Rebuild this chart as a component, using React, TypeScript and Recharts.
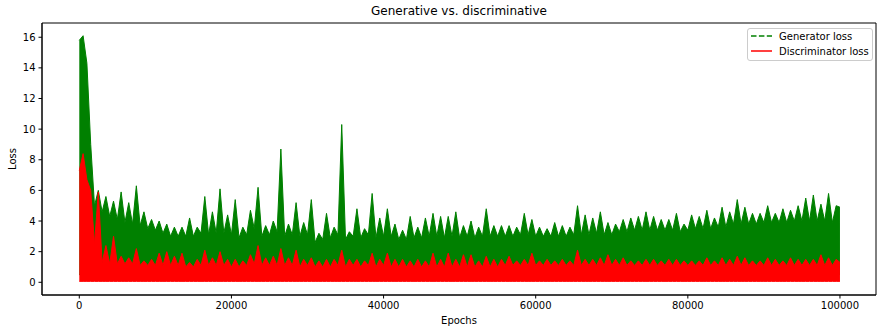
import { ComposedChart, Area, XAxis, YAxis, ReferenceArea } from 'recharts'

// generator loss: top of the dense band at every 1000 epochs (0 .. 100000)
const genBand = [
  15.8, 14.3, 5.0, 4.6, 4.3, 4.1, 3.9, 3.8, 3.7, 3.5,
  3.4, 3.2, 3.0, 3.0, 3.0, 3.0, 3.2, 3.1, 3.2, 3.2,
  3.1, 2.9, 3.1, 3.5, 3.0, 3.1, 3.3, 3.0, 3.1, 3.0,
  3.1, 2.6, 2.8, 2.9, 3.1, 2.8, 3.0, 2.9, 3.1, 2.9,
  3.0, 3.0, 2.8, 2.8, 2.9, 2.9, 3.0, 3.0, 2.9, 3.0,
  2.9, 3.0, 2.9, 3.0, 3.0, 3.0, 3.0, 3.0, 3.1, 3.1,
  3.0, 3.0, 3.0, 3.0, 3.0, 3.1, 3.1, 3.1, 3.2, 3.1,
  3.1, 3.3, 3.3, 3.4, 3.4, 3.4, 3.4, 3.4, 3.4, 3.3,
  3.4, 3.5, 3.5, 3.5, 3.6, 3.6, 3.8, 3.8, 3.8, 3.8,
  3.9, 3.9, 3.9, 3.9, 4.0, 4.0, 4.0, 4.0, 4.0, 3.9,
  4.9,
]
// generator loss: highest spike in each 1000-epoch bucket (drawn mid-bucket)
const genSpike = [
  16.1, 9.0, 6.0, 5.6, 5.3, 5.9, 5.2, 6.3, 4.6, 4.1,
  4.0, 3.8, 3.6, 3.6, 4.2, 3.6, 5.6, 4.6, 6.1, 4.4,
  5.4, 3.6, 4.7, 6.2, 3.7, 4.0, 8.7, 3.8, 5.2, 3.9,
  5.4, 3.2, 4.5, 3.6, 10.3, 3.3, 4.8, 3.5, 5.8, 4.2,
  4.8, 3.8, 3.4, 4.3, 3.6, 4.2, 4.5, 4.3, 4.3, 4.6,
  3.7, 4.0, 3.6, 4.8, 3.7, 3.7, 3.7, 3.6, 4.5, 4.1,
  3.6, 3.5, 3.9, 3.7, 3.6, 5.0, 4.4, 4.2, 4.6, 3.9,
  3.8, 4.1, 4.2, 4.3, 4.6, 4.3, 4.1, 4.1, 4.5, 3.8,
  4.4, 4.3, 4.7, 4.2, 4.9, 4.6, 5.4, 4.9, 4.5, 4.5,
  5.0, 4.5, 4.8, 4.7, 5.0, 5.5, 5.7, 5.1, 5.8, 5.0,
]
// discriminator loss, same sampling
const discBand = [
  7.3, 6.7, 2.5, 1.3, 1.2, 1.2, 1.2, 1.2, 1.1, 1.1,
  1.1, 1.1, 1.1, 1.1, 1.0, 1.0, 1.1, 1.1, 1.1, 1.1,
  1.0, 1.0, 1.1, 1.2, 1.1, 1.1, 1.1, 1.1, 1.1, 1.0,
  1.1, 1.0, 1.0, 1.0, 1.1, 1.0, 1.1, 1.0, 1.1, 1.0,
  1.1, 1.0, 1.0, 1.0, 1.0, 1.0, 1.0, 1.0, 1.0, 1.0,
  1.0, 1.0, 1.0, 1.0, 1.0, 1.0, 1.1, 1.1, 1.1, 1.1,
  1.1, 1.1, 1.1, 1.1, 1.1, 1.1, 1.1, 1.1, 1.1, 1.1,
  1.1, 1.1, 1.1, 1.1, 1.1, 1.1, 1.1, 1.1, 1.1, 1.1,
  1.1, 1.1, 1.1, 1.1, 1.1, 1.1, 1.1, 1.1, 1.1, 1.1,
  1.1, 1.1, 1.1, 1.1, 1.1, 1.1, 1.1, 1.1, 1.1, 1.1,
  1.3,
]
const discSpike = [
  8.4, 6.0, 5.9, 2.4, 3.0, 1.7, 1.6, 2.2, 1.4, 1.5,
  1.9, 2.0, 1.7, 1.9, 1.3, 1.5, 2.1, 1.6, 2.0, 1.5,
  1.5, 1.4, 1.8, 2.4, 1.6, 1.7, 2.2, 1.6, 2.1, 1.5,
  1.6, 1.4, 1.5, 1.5, 2.1, 1.5, 1.5, 1.4, 1.9, 1.5,
  1.9, 1.5, 1.5, 1.4, 1.5, 1.4, 1.9, 1.5, 1.9, 1.5,
  1.8, 1.8, 1.4, 1.7, 1.5, 1.5, 1.7, 1.4, 1.5, 1.9,
  1.4, 1.5, 1.4, 1.5, 1.4, 2.1, 1.5, 1.5, 1.6, 1.8,
  1.5, 1.6, 1.4, 1.4, 1.5, 1.5, 1.4, 1.5, 1.5, 1.4,
  1.4, 1.4, 1.6, 1.4, 1.6, 1.5, 1.7, 1.6, 1.4, 1.4,
  1.6, 1.5, 1.4, 1.6, 1.5, 1.5, 1.5, 1.8, 1.6, 1.5,
]
const GEN_FLOOR = 0.5
const DISC_FLOOR = 0.06
const STEP = 1000

const xTicks = [0, 20000, 40000, 60000, 80000, 100000]
const yTicks = [0, 2, 4, 6, 8, 10, 12, 14, 16]
const X_MIN = -4903
const X_MAX = 104737
const Y_MIN = -0.83
const Y_MAX = 16.93

const data: any[] = []
genBand.forEach((g, k) => {
  data.push({ epoch: k * STEP, gen: [GEN_FLOOR, g], disc: [DISC_FLOOR, discBand[k]] })
  if (k < genSpike.length) {
    data.push({ epoch: k * STEP + STEP / 2, gen: [GEN_FLOOR, genSpike[k]], disc: [DISC_FLOOR, discSpike[k]] })
  }
})

const FONT = '"DejaVu Sans", sans-serif'

const XLabel = ({ viewBox }: any) => (
  <text x={viewBox.x + viewBox.width / 2} y={viewBox.y + 25} textAnchor="middle" dominantBaseline="central"
    fontSize={10} fontFamily={FONT} fill="#000">Epochs</text>
)

const YLabel = ({ viewBox }: any) => {
  const cx = viewBox.x + 12
  const cy = viewBox.y + viewBox.height / 2
  return (
    <text x={cx} y={cy} transform={`rotate(-90 ${cx} ${cy})`} textAnchor="middle" dominantBaseline="central"
      fontSize={10} fontFamily={FONT} fill="#000">Loss</text>
  )
}

function LegendBox() {
  return (
    <div style={{ position: 'absolute', left: 747, top: 28, width: 126, height: 33, boxSizing: 'border-box',
      border: '1px solid #ccc', borderRadius: 3, background: 'rgba(255,255,255,0.8)', fontFamily: FONT, fontSize: 10 }}>
      <svg width={126} height={33} style={{ position: 'absolute', left: -1, top: -1 }}>
        <line x1={4} x2={25} y1={8} y2={8} stroke="green" strokeWidth={1.5} strokeDasharray="5.5 2.4" />
        <line x1={4} x2={25} y1={23} y2={23} stroke="red" strokeWidth={1.5} />
        <text x={32} y={8} dominantBaseline="central" fontSize={10} fontFamily={FONT}>Generator loss</text>
        <text x={32} y={23} dominantBaseline="central" fontSize={10} fontFamily={FONT}>Discriminator loss</text>
      </svg>
    </div>
  )
}

export default function App() {
  const tick = { fill: '#000', fontSize: 10, fontFamily: FONT }
  return (
    <div style={{ position: 'absolute', left: 0, top: 0, width: 888, height: 333, background: '#fff' }}>
      <div style={{ position: 'absolute', left: 42, top: 4, width: 834, textAlign: 'center', fontFamily: FONT, fontSize: 12 }}>
        Generative vs. discriminative
      </div>
      <ComposedChart width={888} height={333} data={data} margin={{ top: 23, right: 12, left: 0, bottom: 0 }}>
        <XAxis dataKey="epoch" type="number" domain={[X_MIN, X_MAX]} ticks={xTicks} allowDataOverflow
          height={38} tickSize={3.5} tickMargin={3} tick={tick} axisLine={{ stroke: '#000' }} tickLine={{ stroke: '#000' }}
          label={<XLabel />} />
        <YAxis type="number" domain={[Y_MIN, Y_MAX]} ticks={yTicks} allowDataOverflow
          width={42} tickSize={3.5} tickMargin={3} tick={tick} axisLine={{ stroke: '#000' }} tickLine={{ stroke: '#000' }}
          label={<YLabel />} />
        <Area dataKey="gen" type="linear" fill="#008000" fillOpacity={1} stroke="#008000" strokeWidth={1}
          dot={false} activeDot={false} isAnimationActive={false} />
        <Area dataKey="disc" type="linear" fill="#ff0000" fillOpacity={1} stroke="#ff0000" strokeWidth={1}
          dot={false} activeDot={false} isAnimationActive={false} />
        <ReferenceArea x1={X_MIN} x2={X_MAX} y1={Y_MIN} y2={Y_MAX} fill="none" stroke="#000" strokeWidth={1} />
      </ComposedChart>
      <LegendBox />
    </div>
  )
}
